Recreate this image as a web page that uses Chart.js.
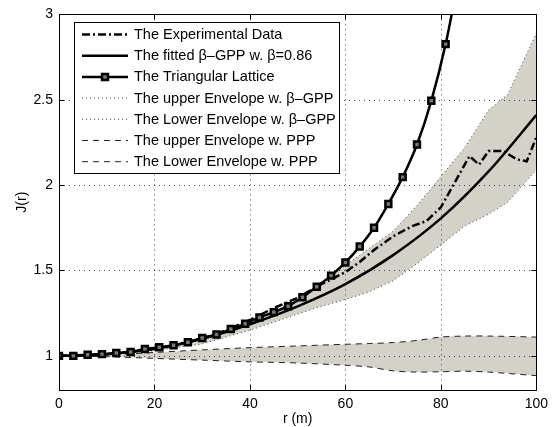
<!DOCTYPE html>
<html><head><meta charset="utf-8">
<script src="https://cdn.jsdelivr.net/npm/chart.js@4/dist/chart.umd.min.js"></script>
<style>html,body{margin:0;padding:0;background:#fff}canvas{display:block}</style>
</head><body>
<canvas id="c" width="554" height="427"></canvas>
<script>
// ---- data ----
const xTicks = [0, 20, 40, 60, 80, 100];
const yTicks = [1, 1.5, 2, 2.5, 3];

const triR = [0,3,6,9,12,15,18,21,24,27,30,33,36,39,42,45,48,51,54,57,60,63,66,69,72,75,78,81,84];
const triJ = [1.0,1.0,1.006,1.01,1.017,1.023,1.04,1.05,1.062,1.08,1.105,1.125,1.157,1.188,1.225,1.256,1.291,1.343,1.405,1.47,1.547,1.64,1.75,1.89,2.047,2.238,2.494,2.826,3.25];

const fitR = [0,10,20,30,40,50,60,70,80,90,100];
const fitJ = [1.0,1.01,1.04,1.10,1.185,1.29,1.42,1.59,1.805,2.08,2.41];

const expR = [0,5,10,15,20,25,30,35,40,45,50,55,60,63,66,70,74,77,80,82,84,86,88,90,93,96,98,100];
const expJ = [1.0,1.005,1.01,1.025,1.04,1.07,1.10,1.15,1.21,1.28,1.34,1.42,1.49,1.55,1.62,1.70,1.76,1.79,1.87,1.97,2.07,2.17,2.12,2.20,2.20,2.15,2.14,2.28];

const envR   = [0,10,20,30,40,50,55,60,65,70,75,80,85,90,94,100];
const upperB = [1.0,1.01,1.04,1.10,1.19,1.33,1.43,1.53,1.63,1.73,1.88,2.05,2.22,2.44,2.53,2.89];
const lowerB = [1.0,1.01,1.03,1.07,1.15,1.245,1.29,1.33,1.375,1.44,1.54,1.65,1.76,1.83,1.90,2.09];

const pppR = [0,10,20,30,40,50,60,65,70,75,80,85,90,100];
const pppU = [1.0,1.005,1.02,1.035,1.048,1.058,1.068,1.072,1.078,1.09,1.11,1.116,1.116,1.11];
const pppL = [1.0,0.995,0.985,0.975,0.965,0.958,0.945,0.935,0.912,0.905,0.907,0.91,0.905,0.884];

const legendLabels = [
  'The Experimental Data',
  'The fitted \u03B2\u2013GPP w. \u03B2=0.86',
  'The Triangular Lattice',
  'The upper Envelope w. \u03B2\u2013GPP',
  'The Lower Envelope w. \u03B2\u2013GPP',
  'The upper Envelope w. PPP',
  'The Lower Envelope w. PPP'
];
const xTitle = 'r (m)';
const yTitle = 'J(r)';

// ---- styling ----
const FONT = '"Liberation Sans", Arial, Helvetica, sans-serif';
const BAND = '#d4d2c8';
const pts = (xs, ys) => xs.map((x, i) => ({x: x, y: ys[i]}));

const styles = [
  {dash: [8,3,2,3], width: 2.5, color: '#000'},
  {dash: [], width: 2.5, color: '#000'},
  {dash: [], width: 2.5, color: '#000', marker: true},
  {dash: [1,3], width: 1, color: '#444'},
  {dash: [1,3], width: 1, color: '#444'},
  {dash: [6,5], width: 1, color: '#222'},
  {dash: [6,5], width: 1, color: '#222'}
];

const frame = {
  id: 'frame',
  beforeDatasetsDraw(chart) {
    const {ctx, chartArea: a, scales: {x, y}} = chart;
    ctx.save();
    ctx.strokeStyle = 'rgba(0,0,0,0.7)';
    ctx.lineWidth = 1;
    ctx.setLineDash([1,4]);
    xTicks.forEach(v => {
      if (v === 0 || v === 100) return;
      const px = Math.round(x.getPixelForValue(v)) + 0.5;
      ctx.beginPath(); ctx.moveTo(px, a.top); ctx.lineTo(px, a.bottom); ctx.stroke();
    });
    yTicks.forEach(v => {
      if (v === 3) return;
      const py = Math.round(y.getPixelForValue(v)) + 0.5;
      ctx.beginPath(); ctx.moveTo(a.left, py); ctx.lineTo(a.right, py); ctx.stroke();
    });
    ctx.restore();
  },
  afterDraw(chart) {
    const {ctx, chartArea: a, scales: {x, y}} = chart;
    ctx.save();
    ctx.strokeStyle = '#000';
    ctx.lineWidth = 1;
    ctx.setLineDash([]);
    ctx.strokeRect(Math.round(a.left) + 0.5, Math.round(a.top) + 0.5, Math.round(a.right - a.left), Math.round(a.bottom - a.top));
    const tl = 5;
    xTicks.forEach(v => {
      const px = Math.round(x.getPixelForValue(v)) + 0.5;
      ctx.beginPath();
      ctx.moveTo(px, a.bottom); ctx.lineTo(px, a.bottom - tl);
      ctx.moveTo(px, a.top); ctx.lineTo(px, a.top + tl);
      ctx.stroke();
    });
    yTicks.forEach(v => {
      const py = Math.round(y.getPixelForValue(v)) + 0.5;
      ctx.beginPath();
      ctx.moveTo(a.left, py); ctx.lineTo(a.left + tl, py);
      ctx.moveTo(a.right, py); ctx.lineTo(a.right - tl, py);
      ctx.stroke();
    });
    // axis titles
    ctx.fillStyle = '#000';
    ctx.font = '14px ' + FONT;
    ctx.textAlign = 'center';
    ctx.textBaseline = 'middle';
    ctx.fillText(xTitle, (a.left + a.right) / 2, 419);
    ctx.save();
    ctx.translate(22, (a.top + a.bottom) / 2);
    ctx.rotate(-Math.PI / 2);
    ctx.fillText(yTitle, 0, 0);
    ctx.restore();
    // legend
    const bx = 74, by = 22, bw = 265, bh = 151;
    ctx.fillStyle = '#fff';
    ctx.fillRect(bx, by, bw, bh);
    ctx.strokeRect(bx + 0.5, by + 0.5, bw, bh);
    ctx.textAlign = 'left';
    ctx.font = '14.5px ' + FONT;
    legendLabels.forEach((t, i) => {
      const cy = 34.5 + i * 21.2;
      const s = styles[i];
      ctx.save();
      ctx.strokeStyle = s.color;
      ctx.lineWidth = s.width;
      ctx.setLineDash(s.dash);
      ctx.beginPath(); ctx.moveTo(82, cy); ctx.lineTo(128, cy); ctx.stroke();
      if (s.marker) {
        ctx.setLineDash([]);
        ctx.fillStyle = '#777';
        ctx.beginPath(); ctx.rect(105 - 3, cy - 3, 6, 6); ctx.fill(); ctx.stroke();
      }
      ctx.restore();
      ctx.fillStyle = '#000';
      ctx.fillText(t, 134, cy + 0.5);
    });
    ctx.restore();
  }
};

new Chart(document.getElementById('c'), {
  type: 'line',
  data: {
    datasets: [
      {label: legendLabels[2], data: pts(triR, triJ), borderColor: '#000', borderWidth: 2.5,
       cubicInterpolationMode: 'monotone', pointStyle: 'rect',
       pointRadius: c => (c.dataIndex < triR.length - 1 ? 4.2 : 0),
       pointBorderWidth: 2.5, pointBackgroundColor: '#777', pointBorderColor: '#000', fill: false},
      {label: legendLabels[1], data: pts(fitR, fitJ), borderColor: '#000', borderWidth: 2.5,
       cubicInterpolationMode: 'monotone', pointRadius: 0, fill: false},
      {label: legendLabels[0], data: pts(expR, expJ), borderColor: '#000', borderWidth: 2.5,
       borderDash: [8,3,2,3], tension: 0, pointRadius: 0, fill: false},
      {label: legendLabels[3], data: pts(envR, upperB), borderColor: '#444', borderWidth: 1,
       borderDash: [1,3], tension: 0, pointRadius: 0, fill: '+1', backgroundColor: BAND},
      {label: legendLabels[4], data: pts(envR, lowerB), borderColor: '#444', borderWidth: 1,
       borderDash: [1,3], tension: 0, pointRadius: 0, fill: false},
      {label: legendLabels[5], data: pts(pppR, pppU), borderColor: '#222', borderWidth: 1,
       borderDash: [6,5], tension: 0.3, pointRadius: 0, fill: '+1', backgroundColor: BAND},
      {label: legendLabels[6], data: pts(pppR, pppL), borderColor: '#222', borderWidth: 1,
       borderDash: [6,5], tension: 0.3, pointRadius: 0, fill: false}
    ]
  },
  options: {
    responsive: false,
    animation: false,
    layout: {padding: {top: 13, right: 16, left: 0, bottom: 0}},
    plugins: {
      legend: {display: false},
      tooltip: {enabled: false},
      filler: {drawTime: 'beforeDraw'}
    },
    scales: {
      x: {
        type: 'linear', min: 0, max: 100,
        grid: {display: false, drawTicks: false},
        border: {display: false},
        ticks: {color: '#000', font: {family: FONT, size: 14}, padding: 6},
        afterBuildTicks: s => { s.ticks = xTicks.map(v => ({value: v})); },
        afterFit: s => { s.height = 37; }
      },
      y: {
        type: 'linear', min: 0.8, max: 3,
        grid: {display: false, drawTicks: false},
        border: {display: false},
        ticks: {color: '#000', font: {family: FONT, size: 14}, padding: 6,
                callback: v => String(v)},
        afterBuildTicks: s => { s.ticks = yTicks.map(v => ({value: v})); },
        afterFit: s => { s.width = 59; }
      }
    }
  },
  plugins: [frame]
});
</script>
</body></html>
